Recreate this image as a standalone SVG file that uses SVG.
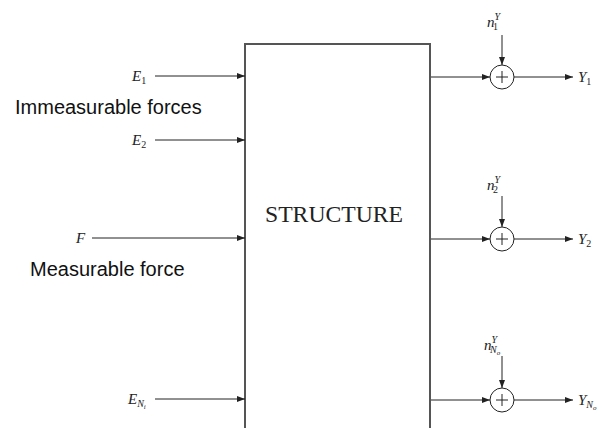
<svg xmlns="http://www.w3.org/2000/svg" width="610" height="428" viewBox="0 0 610 428">
<style>
.ln{stroke:#222;stroke-width:1;fill:none}
.m{font-family:"Liberation Serif",serif;font-style:italic;font-size:15px;fill:#222}
.s{font-family:"Liberation Serif",serif;font-style:normal;font-size:10px;fill:#222}
.si{font-family:"Liberation Serif",serif;font-style:italic;font-size:10px;fill:#222}
.lbl{font-family:"Liberation Sans",Arial,sans-serif;font-size:20px;fill:#111}
.sum{fill:#fff;stroke:#222;stroke-width:1}
</style>
<defs>
<marker id="ah" markerWidth="8" markerHeight="6" refX="8" refY="3" orient="auto" markerUnits="userSpaceOnUse">
<path d="M0,0 L8,3 L0,6 Z" fill="#222"/>
</marker>
</defs>
<rect width="610" height="428" fill="#fff"/>
<g id="structure">
<path d="M245,430 V44 H430 V430" fill="#fff" stroke="#555" stroke-width="2"/>
<text x="334" y="222" text-anchor="middle" font-family="Liberation Serif,serif" font-size="22.5" fill="#222" textLength="138" lengthAdjust="spacingAndGlyphs">STRUCTURE</text>
</g>
<g id="labels">
<text class="lbl" x="15" y="114">Immeasurable forces</text>
<text class="lbl" x="30" y="276">Measurable force</text>
</g>
<g id="inputs">
<text class="m" x="132" y="81">E<tspan class="s" dy="3">1</tspan></text>
<text class="m" x="132" y="145">E<tspan class="s" dy="3">2</tspan></text>
<text class="m" x="76" y="243">F</text>
<text class="m" x="128" y="404">E<tspan class="si" dy="3">N<tspan font-size="7" dy="2">i</tspan></tspan></text>
</g>
<g id="sum1">
<circle class="sum" cx="502" cy="77" r="12"/>
<path class="ln" d="M496,77 H508 M502,71 V83"/>
<text class="m" x="487" y="27">n<tspan class="si" dy="-7">Y</tspan><tspan class="s" dx="-7" dy="10">1</tspan></text>
<text class="m" x="578" y="82">Y<tspan class="s" dy="3">1</tspan></text>
</g>
<g id="sum2">
<circle class="sum" cx="502" cy="239" r="12"/>
<path class="ln" d="M496,239 H508 M502,233 V245"/>
<text class="m" x="487" y="190">n<tspan class="si" dy="-7">Y</tspan><tspan class="s" dx="-7" dy="10">2</tspan></text>
<text class="m" x="578" y="244">Y<tspan class="s" dy="3">2</tspan></text>
</g>
<g id="sum3">
<circle class="sum" cx="502" cy="400" r="12"/>
<path class="ln" d="M496,400 H508 M502,394 V406"/>
<text class="m" x="484" y="350">n<tspan class="si" dy="-7">Y</tspan><tspan class="si" dx="-7" dy="10">N<tspan font-size="7" dy="2">o</tspan></tspan></text>
<text class="m" x="578" y="405">Y<tspan class="si" dy="3">N<tspan font-size="7" dy="2">o</tspan></tspan></text>
</g>
<g id="connectors">
<line class="ln" x1="155" y1="76" x2="245" y2="76" marker-end="url(#ah)"/>
<line class="ln" x1="155" y1="140" x2="245" y2="140" marker-end="url(#ah)"/>
<line class="ln" x1="92" y1="238" x2="245" y2="238" marker-end="url(#ah)"/>
<line class="ln" x1="155" y1="399" x2="245" y2="399" marker-end="url(#ah)"/>
<line class="ln" x1="431" y1="77" x2="490" y2="77" marker-end="url(#ah)"/>
<line class="ln" x1="514" y1="77" x2="573" y2="77" marker-end="url(#ah)"/>
<line class="ln" x1="502" y1="35" x2="502" y2="65" marker-end="url(#ah)"/>
<line class="ln" x1="431" y1="239" x2="490" y2="239" marker-end="url(#ah)"/>
<line class="ln" x1="514" y1="239" x2="573" y2="239" marker-end="url(#ah)"/>
<line class="ln" x1="502" y1="196" x2="502" y2="227" marker-end="url(#ah)"/>
<line class="ln" x1="431" y1="400" x2="490" y2="400" marker-end="url(#ah)"/>
<line class="ln" x1="514" y1="400" x2="573" y2="400" marker-end="url(#ah)"/>
<line class="ln" x1="502" y1="356" x2="502" y2="388" marker-end="url(#ah)"/>
</g>
</svg>
